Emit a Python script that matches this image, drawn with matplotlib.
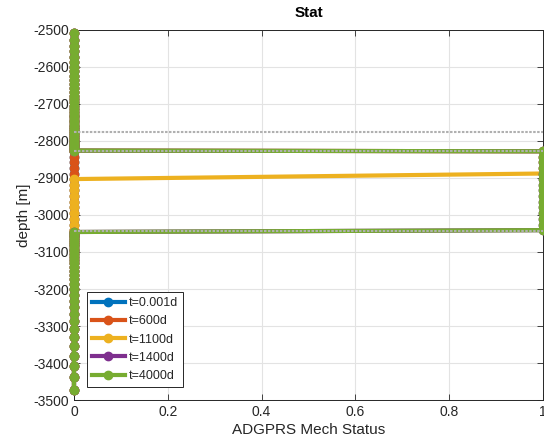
import matplotlib
matplotlib.use("Agg")
import matplotlib.pyplot as plt

plt.rcParams['font.family'] = ['Liberation Sans', 'DejaVu Sans']
plt.rcParams['axes.unicode_minus'] = False

# cell-centre depths of the column [m]
depth_over = [-2509, -2527, -2543, -2558, -2572, -2586, -2599, -2612, -2624, -2636,
              -2647, -2658, -2668, -2678, -2687, -2696, -2705, -2713, -2721, -2729,
              -2736, -2743, -2750, -2756, -2762, -2768, -2774, -2779, -2784, -2789,
              -2794, -2799, -2803, -2807, -2811, -2815, -2819, -2822, -2826]
depth_res = [-2828, -2843, -2858, -2873, -2888, -2903, -2918, -2933, -2949, -2964,
             -2979, -2995, -3010, -3026, -3041]
depth_under = [-3046, -3050, -3054, -3058, -3063, -3068, -3073, -3079, -3085, -3091,
               -3098, -3105, -3113, -3121, -3130, -3140, -3151, -3162, -3174, -3187,
               -3201, -3216, -3232, -3249, -3267, -3287, -3308, -3330, -3354, -3380,
               -3408, -3439, -3473]
depth = depth_over + depth_res + depth_under

n_over, n_res, n_under = len(depth_over), len(depth_res), len(depth_under)

# mechanical status per cell at each report time (0 = intact, 1 = failed)
labels = ['t=0.001d', 't=600d', 't=1100d', 't=1400d', 't=4000d']
stat_res = [
    [0] * 15,
    [0] * 15,
    [1, 1, 1, 1, 1, 0, 0, 0, 0, 0, 0, 0, 0, 0, 0],
    [1] * 15,
    [1] * 15,
]
colors = ['#0072BD', '#D95319', '#EDB120', '#7E2F8E', '#77AC30']

# reservoir markers
marker_depths = [-2776, -2827, -3044]

fig = plt.figure(figsize=(5.44, 4.46), dpi=100)
ax = fig.add_axes([0.136, 0.103, 0.862, 0.830])

for lab, sr, c in zip(labels, stat_res, colors):
    stat = [0] * n_over + sr + [0] * n_under
    ax.plot(stat, depth, '-o', color=c, lw=3, ms=6, label=lab, zorder=3,
            clip_on=False)

for d in marker_depths:
    ax.plot([0, 1], [d, d], color='#b0b0b0', lw=1.5, ls=(0, (1.2, 0.7)), zorder=4)

ax.set_xlim(0, 1)
ax.set_ylim(-3500, -2500)
ax.set_xticks([0, 0.2, 0.4, 0.6, 0.8, 1])
ax.set_xticklabels(['0', '0.2', '0.4', '0.6', '0.8', '1'])
ax.set_yticks(range(-3500, -2499, 100))
ax.grid(True, color='#e3e3e3', lw=0.8)
ax.set_axisbelow(True)
ax.tick_params(direction='in', top=True, right=True, labelsize=10,
               colors='#262626', length=4, width=0.6)
for s in ax.spines.values():
    s.set_color('#262626')
    s.set_linewidth(0.7)

ax.set_title('Stat', fontsize=11, fontweight='bold', color='#000000', pad=9)
ax.set_xlabel('ADGPRS Mech Status', fontsize=11, color='#262626', labelpad=3)
ax.set_ylabel('depth [m]', fontsize=11, color='#262626', labelpad=2)

leg = ax.legend(loc='lower left', bbox_to_anchor=(0.028, 0.035), fontsize=9,
                fancybox=False, framealpha=1, edgecolor='#262626',
                handlelength=2.6, handletextpad=0.3, borderpad=0.4,
                labelspacing=0.5, borderaxespad=0)
leg.get_frame().set_linewidth(0.7)
for t in leg.get_texts():
    t.set_color('#262626')

fig.savefig('out.png', dpi=100)
